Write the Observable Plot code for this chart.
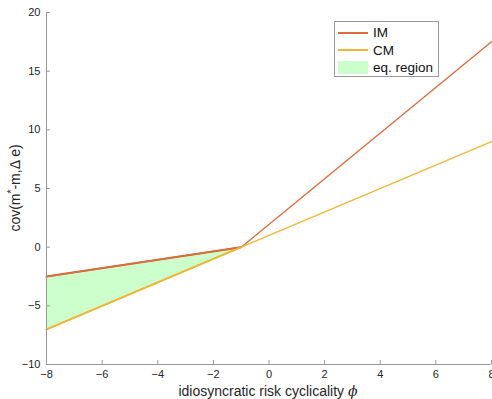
<!DOCTYPE html>
<html><head><meta charset="utf-8">
<script src="https://cdn.jsdelivr.net/npm/d3@7"></script>
<script src="https://cdn.jsdelivr.net/npm/@observablehq/plot@0.6"></script>
<style>
body{margin:0;background:#fff;font-family:"Liberation Sans",Arial,sans-serif;}
#wrap{position:relative;width:492px;height:399px;}
#legend{position:absolute;left:334px;top:21px;width:105px;height:56px;border:1px solid #999;background:#fff;box-sizing:border-box;font-size:13.5px;color:#111;}
.row{position:absolute;left:0;height:17px;display:flex;align-items:center;}
.sw{display:inline-block;width:30px;margin-left:3px;margin-right:5px;}
</style></head>
<body><div id="wrap"><div id="legend"></div></div>
<script>
const phi = [-8, -1, 8];
const covIM = [-2.5, 0, 17.5];
const covCM = [-7, 0, 9];
const regionPhi = [-8, -1];
const xTicks = [-8, -6, -4, -2, 0, 2, 4, 6, 8];
const yTicks = [-10, -5, 0, 5, 10, 15, 20];
const seriesNames = ["IM", "CM", "eq. region"];
const colors = {IM: "#E06C3C", CM: "#F0B835", region: "#ccffcc"};

const lineIM = phi.map((x, i) => ({x, y: covIM[i]}));
const lineCM = phi.map((x, i) => ({x, y: covCM[i]}));
const region = regionPhi.map(x => {
  const i = phi.indexOf(x);
  return {x, lo: covCM[i], hi: covIM[i]};
});
const edgeIM = lineIM.filter(d => regionPhi.includes(d.x));
const edgeCM = lineCM.filter(d => regionPhi.includes(d.x));

const chart = Plot.plot({
  width: 492, height: 399,
  marginLeft: 46, marginRight: 1, marginTop: 12, marginBottom: 35,
  style: {fontFamily: '"Liberation Sans", Arial, sans-serif', fontSize: "11px", color: "#262626", background: "white"},
  x: {domain: [-8, 8], ticks: xTicks},
  y: {domain: [-10, 20], ticks: yTicks},
  marks: [
    Plot.areaY(region, {x: "x", y1: "lo", y2: "hi", fill: colors.region}),
    Plot.line(edgeIM, {x: "x", y: "y", stroke: "#C8643A", strokeWidth: 2}),
    Plot.line(edgeCM, {x: "x", y: "y", stroke: "#E0B030", strokeWidth: 2}),
    Plot.line(lineIM, {x: "x", y: "y", stroke: colors.IM, strokeWidth: 1.4}),
    Plot.line(lineCM, {x: "x", y: "y", stroke: colors.CM, strokeWidth: 1.4}),
    Plot.axisX({ticks: xTicks, tickSize: -4, tickPadding: 10, stroke: "#999", label: null, fontSize: 11}),
    Plot.axisY({ticks: yTicks, tickSize: -4, tickPadding: 10, stroke: "#999", label: null, fontSize: 11}),
    Plot.ruleX([-8], {stroke: "#999"}),
    Plot.ruleY([-10], {stroke: "#999"})
  ]
});
const wrap = document.getElementById("wrap");
wrap.insertBefore(chart, wrap.firstChild);

const svg = d3.select(chart);
svg.append("text").attr("x", 268).attr("y", 396).attr("text-anchor", "middle")
  .attr("font-size", 14).attr("fill", "#262626")
  .html('idiosyncratic risk cyclicality <tspan font-family="DejaVu Serif" font-style="italic">ϕ</tspan>');
svg.append("text").attr("transform", "translate(20,188) rotate(-90)").attr("text-anchor", "middle")
  .attr("font-size", 14).attr("fill", "#262626")
  .html('cov(m<tspan dy="-5" font-size="10">*</tspan><tspan dy="5">-m,Δ e)</tspan>');

const leg = document.getElementById("legend");
seriesNames.forEach((name, i) => {
  const row = document.createElement("div");
  row.className = "row";
  row.style.top = (2 + i * 17.5) + "px";
  const sw = document.createElement("span");
  sw.className = "sw";
  if (i < 2) { sw.style.height = "2px"; sw.style.background = i === 0 ? colors.IM : colors.CM; }
  else { sw.style.height = "13px"; sw.style.background = colors.region; }
  row.appendChild(sw);
  const t = document.createElement("span");
  t.textContent = name;
  row.appendChild(t);
  leg.appendChild(row);
});
</script></body></html>
